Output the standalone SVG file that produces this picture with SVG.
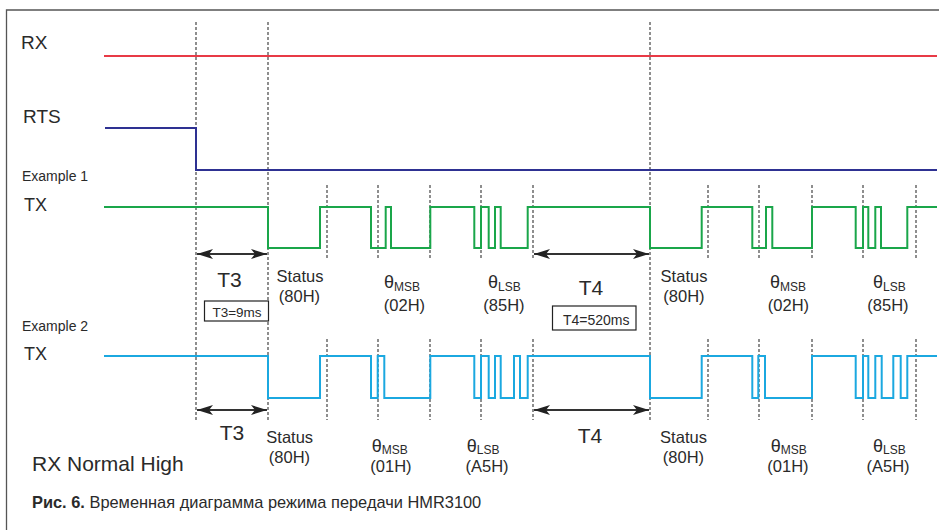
<svg xmlns="http://www.w3.org/2000/svg" width="939" height="530" viewBox="0 0 939 530">
<defs>
<marker id="ah" viewBox="0 0 16 10" refX="16" refY="5" markerWidth="16" markerHeight="10" markerUnits="userSpaceOnUse" orient="auto-start-reverse">
<path d="M0,0 L16,5 L0,10 L4,5 Z" fill="#222"/>
</marker>
<style>
.t{font-family:"Liberation Sans",Arial,sans-serif;fill:#2a2a2a}
.dash{stroke:#444;stroke-width:1.2;stroke-dasharray:3 2;fill:none}
.sig{fill:none;stroke-width:2;stroke-linejoin:miter}
.arr{stroke:#333;stroke-width:2;fill:none;marker-start:url(#ah);marker-end:url(#ah)}
.box{fill:#fff;stroke:#222;stroke-width:1.2}
</style>
</defs>
<rect width="939" height="530" fill="#fff"/>
<path d="M6.5,530 V10 H939" fill="none" stroke="#555" stroke-width="1.3"/>

<g id="grid">
<line class="dash" x1="196" y1="22" x2="196" y2="420"/>
<line class="dash" x1="268" y1="22" x2="268" y2="420"/>
<line class="dash" x1="650" y1="22" x2="650" y2="420"/>
<path class="dash" d="M327,185V260M378,185V260M430,185V260M481,185V260M533,185V260M708,185V260M759,185V260M812,185V260M863,185V260M916,185V260"/>
<path class="dash" d="M327,339V420M378,339V420M430,339V420M481,339V420M533,339V420M708,339V420M759,339V420M812,339V420M863,339V420M916,339V420"/>
</g>

<g id="connectors">
<path id="rx" class="sig" stroke="#e83a46" d="M104,56H937"/>
<path id="rts" class="sig" stroke="#2e3192" d="M105,128H196V170H937"/>
<path id="tx1" class="sig" stroke="#1aa64a" d="M104,207H268V248H320V207H371V248H385.7V207H391V248H430.3V207H474.3V248H481V207H488.7V248H495V207H500.7V248H527.7V207H650V248H701.7V207H752.3V248H766V207H772.3V248H812V207H855.7V248H863V207H868.3V248H875.3V207H881V248H907.3V207H937"/>
<path id="tx2" class="sig" stroke="#1ba8e0" d="M104,356H268V398H320V356H371V398H377.7V356H384.3V398H430.3V356H474.3V398H481V356H488.7V398H495V356H500.7V398H514V356H520V398H527.7V356H650V398H701.7V356H752.3V398H758.3V356H765V398H812V356H855.7V398H863V356H868.3V398H875.3V356H881.7V398H893.3V356H900.7V398H907.3V356H937"/>
<line class="arr" x1="197" y1="254" x2="267" y2="254"/>
<line class="arr" x1="534" y1="254" x2="649" y2="254"/>
<line class="arr" x1="197" y1="410" x2="267" y2="410"/>
<line class="arr" x1="534" y1="410" x2="649" y2="410"/>
</g>

<g id="signal-labels">
<text class="t" x="21" y="49" font-size="19">RX</text>
<text class="t" x="23" y="123" font-size="19">RTS</text>
<text class="t" x="22" y="181" font-size="14">Example 1</text>
<text class="t" x="24" y="211" font-size="18">TX</text>
<text class="t" x="22" y="331" font-size="14">Example 2</text>
<text class="t" x="24" y="360" font-size="18">TX</text>
</g>

<g id="ex1-labels">
<text class="t" x="229.5" y="287" font-size="21" text-anchor="middle">T3</text>
<g id="t3-box"><rect class="box" x="204.5" y="301" width="64" height="20"/>
<text class="t" x="237" y="316.5" font-size="13.5" text-anchor="middle">T3=9ms</text></g>
<text class="t" x="300" y="282" font-size="16.5" text-anchor="middle">Status</text>
<text class="t" x="299.5" y="302" font-size="16.5" text-anchor="middle">(80H)</text>
<text class="t" x="384" y="288" font-size="18">θ<tspan font-size="12" dy="3">MSB</tspan></text>
<text class="t" x="404.5" y="310.5" font-size="16.5" text-anchor="middle">(02H)</text>
<text class="t" x="488" y="288" font-size="18">θ<tspan font-size="12" dy="3">LSB</tspan></text>
<text class="t" x="504" y="310.5" font-size="16.5" text-anchor="middle">(85H)</text>
<text class="t" x="591" y="295" font-size="21" text-anchor="middle">T4</text>
<g id="t4-box"><rect class="box" x="552.5" y="306" width="83.5" height="24"/>
<text class="t" x="563" y="325" font-size="14">T4=520ms</text></g>
<text class="t" x="684" y="282" font-size="16.5" text-anchor="middle">Status</text>
<text class="t" x="684" y="302" font-size="16.5" text-anchor="middle">(80H)</text>
<text class="t" x="770" y="288" font-size="18">θ<tspan font-size="12" dy="3">MSB</tspan></text>
<text class="t" x="788.5" y="310.5" font-size="16.5" text-anchor="middle">(02H)</text>
<text class="t" x="873" y="288" font-size="18">θ<tspan font-size="12" dy="3">LSB</tspan></text>
<text class="t" x="888" y="310.5" font-size="16.5" text-anchor="middle">(85H)</text>
</g>

<g id="ex2-labels">
<text class="t" x="232" y="440" font-size="21" text-anchor="middle">T3</text>
<text class="t" x="289.7" y="443.3" font-size="16.5" text-anchor="middle">Status</text>
<text class="t" x="289.5" y="463.3" font-size="16.5" text-anchor="middle">(80H)</text>
<text class="t" x="371.7" y="451.5" font-size="18">θ<tspan font-size="12" dy="2.5">MSB</tspan></text>
<text class="t" x="391" y="472" font-size="16.5" text-anchor="middle">(01H)</text>
<text class="t" x="466.7" y="451.5" font-size="18">θ<tspan font-size="12" dy="2.5">LSB</tspan></text>
<text class="t" x="487" y="472" font-size="16.5" text-anchor="middle">(A5H)</text>
<text class="t" x="590" y="443" font-size="21" text-anchor="middle">T4</text>
<text class="t" x="683.5" y="443.3" font-size="16.5" text-anchor="middle">Status</text>
<text class="t" x="683.5" y="463.3" font-size="16.5" text-anchor="middle">(80H)</text>
<text class="t" x="770.7" y="451.5" font-size="18">θ<tspan font-size="12" dy="2.5">MSB</tspan></text>
<text class="t" x="788" y="472" font-size="16.5" text-anchor="middle">(01H)</text>
<text class="t" x="873" y="451.5" font-size="18">θ<tspan font-size="12" dy="2.5">LSB</tspan></text>
<text class="t" x="888" y="472" font-size="16.5" text-anchor="middle">(A5H)</text>
</g>

<text class="t" x="32" y="471" font-size="21">RX Normal High</text>
<text class="t" x="32" y="508" font-size="16.4"><tspan font-weight="bold">Рис. 6.</tspan> Временная диаграмма режима передачи HMR3100</text>
</svg>
